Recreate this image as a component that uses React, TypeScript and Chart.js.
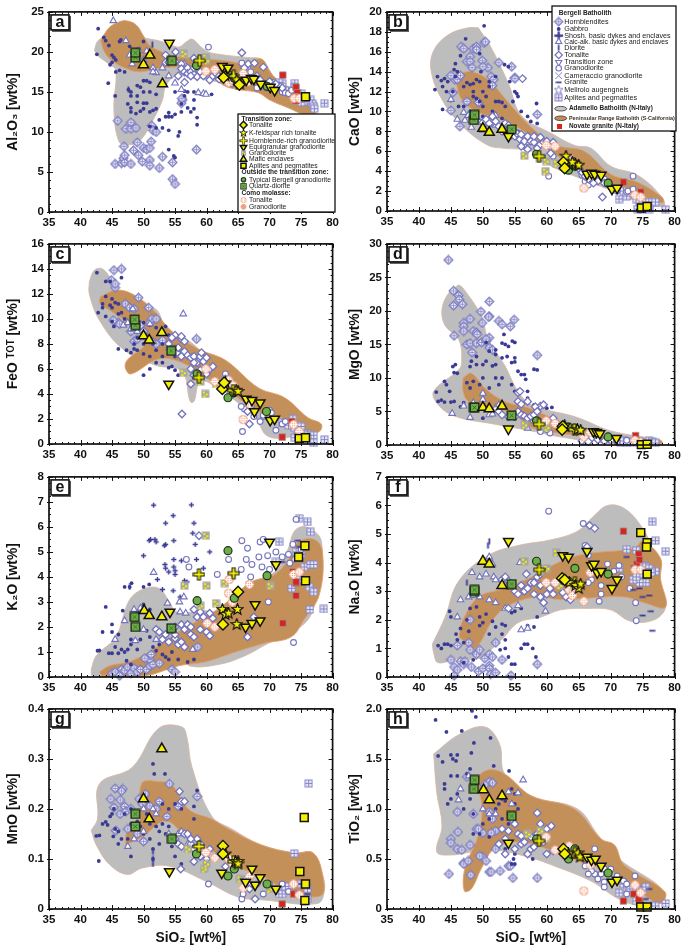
import React, { useEffect, useRef } from "react";
import { Chart, registerables } from "chart.js";
Chart.register(...registerables);

type P = number[];
// ---------- tick data
const xRange = [35, 80];
const xStep = 5;
const xLabelTitle = "SiO₂ [wt%]";
const titles = ["Al₂O₃ [wt%]", "CaO [wt%]", "FeO ᵀᴼᵀ [wt%]", "MgO [wt%]", "K₂O [wt%]", "Na₂O [wt%]", "MnO [wt%]", "TiO₂ [wt%]"];
const yMax = [25, 20, 16, 30, 8, 7, 0.4, 2];
const yStep = [5, 2, 2, 5, 1, 1, 0.1, 0.5];
const yMinor = [1, 0.5, 0.5, 1, 0.25, 0.25, 0.02, 0.1];
const letters = ["a", "b", "c", "d", "e", "f", "g", "h"];

// ---------- fields
const aAdamello: P[] = [[42.2,20.2],[42.8,21.4],[45,22.3],[48,22],[51,21.6],[52.4,21.4],[54,21],[55.6,20.6],[56.7,21.2],[57.7,21.6],[59,20.7],[60.3,20],[62,19.7],[64,19.5],[66.5,19.3],[68.7,19.1],[69.8,18],[70.8,16.7],[73,15.6],[75.5,14.6],[77.6,13.6],[76,13.2],[74,13.6],[71,14.6],[68,15.5],[64,15.8],[60,16.6],[57,17],[55,17],[53.5,15.7],[53,14],[51.5,11.5],[49.3,8.8],[47.5,8.4],[46.1,8.8],[45.3,12.8],[45.6,17.7],[44.5,18.5],[42.8,19.5]];
const aPeninsular: P[] = [[43.2,21.4],[44.5,23],[46,23.7],[47.2,23.9],[48.8,23.4],[50,22],[51,20.8],[53,20],[55.5,19.4],[58,19.2],[59.8,19.1],[63,18.9],[66,18.6],[68.7,19.1],[70,17.6],[71,16.7],[73,15.6],[75,14.3],[77.6,12],[76,12],[73,13],[70,14],[68.2,14.9],[65,15.3],[63,15.7],[61.5,16.5],[59.8,17.3],[57,18],[55,18.1],[52,17.9],[49.3,17.5],[47,18],[45,18.9],[43.8,20]];
const bAdamello: P[] = [[49.3,18.4],[47.7,18.4],[44.6,17.7],[42.3,16.1],[41.9,14.1],[43.6,11.2],[46.7,8.6],[50.8,6.6],[53.4,6.3],[57.6,6],[60.7,4.5],[64.8,3.4],[70,2.1],[75.2,0.9],[78.3,0.45],[78,1.4],[74.2,3.6],[70,4.5],[66.9,6.3],[64.3,6.6],[60.7,7.8],[56,9.6],[54,12.8],[51.3,16.4]];
const bPeninsular: P[] = [[46.2,13.8],[48.2,14],[50.8,13.2],[54,10.9],[57.6,8.4],[61.7,6.6],[65.9,6],[70,3.7],[74.2,2.9],[78,1.4],[78.2,0.8],[75.2,1.4],[70,2.6],[65.9,4],[61.2,5.7],[58.1,7.3],[53.4,9.1],[49.3,9.9],[46.7,11.2],[45.9,12.8]];
const cAdamello: P[] = [[41.4,13],[42.2,13.9],[43.5,14],[45.1,13],[47.2,11.5],[51.9,10.8],[53.5,9.4],[58.7,7.6],[60.8,5.2],[64,4.6],[67,4],[70.3,3.4],[74.5,1.9],[77.6,1.3],[76.9,0.6],[74.5,0.6],[69.8,0.6],[67.7,2.1],[64,3.7],[61.9,4.5],[59,5],[58,3.4],[57.4,3.4],[56.1,5.8],[51.9,6.3],[46.7,7.6],[43,9.9],[41.4,12]];
const cPeninsular: P[] = [[43.2,11.8],[45.6,12.3],[48.2,12],[51.4,10.8],[54.5,9],[58.7,7.6],[63,6.7],[68.2,4.5],[72.4,3.7],[76.1,2.1],[78.2,1.6],[77.9,1],[75.5,0.8],[72.9,1.9],[68.2,2.6],[63.5,4.2],[59.3,5.5],[56.1,6.5],[52.4,6.8],[48,5.6],[47.1,6.1],[47.4,6.7],[50.3,8.1],[48.2,9.4],[44.6,10.7],[43,11.3]];
const dAdamello: P[] = [[46.2,23.9],[46.9,23.4],[49.8,19.2],[50.8,15.8],[53.4,11.9],[55.5,8],[57.6,6],[64.8,4.1],[70,2.1],[77.8,0.7],[78,0.2],[70,0.2],[62.2,1.2],[57.6,2.1],[51.9,3.1],[45.6,4.3],[43,6],[42.3,8],[46.2,11.2],[46.7,12.4],[46.2,15.8],[44.1,17.8],[43.6,20.2],[44.6,22.6]];
const dPeninsular: P[] = [[46.9,10],[48.2,10.7],[50.3,8.5],[53.4,6.5],[57,5.6],[60.7,4.1],[64.8,2.6],[70,1.2],[77.8,0.7],[78,0.2],[72.6,0.35],[68,1.2],[62.2,1.7],[57.6,2.6],[54.5,4.8],[50.3,5.6],[47.7,6.5],[46.9,8]];
const eAdamello: P[] = [[41.7,0.3],[42.5,0.85],[45.6,1.6],[47.7,3.05],[49.8,3.5],[52.4,3.55],[54,3.05],[55.3,2.6],[60,2.65],[61.4,2.5],[62.9,2.8],[66.6,3.7],[70.8,4.2],[72.9,5.1],[74,5.85],[75.8,6],[78.2,5.45],[77.6,3.95],[76.6,2.5],[73.4,1.75],[69.8,1.35],[66.1,0.85],[61.9,0.5],[57.2,0.45],[56.4,0.85],[51.9,0.3],[48.2,0.05],[41.9,0.05]];
const ePeninsular: P[] = [[43,0.2],[44.6,0.45],[48.2,0.65],[52.4,1.25],[56.1,1.9],[60.8,2.55],[63.5,3.05],[67.1,3.8],[70.8,4.1],[73.4,4.85],[74.5,5.4],[77.1,5.5],[78.4,5],[77.9,3.3],[75.5,2.3],[73.4,1.6],[69.2,1.35],[64,0.95],[59.8,0.6],[55.6,0.45],[50.3,0.05],[43.5,0.05]];
const fAdamello: P[] = [[42.1,1.15],[44.1,2.1],[46.2,3.35],[50.8,4.25],[55.5,4.6],[60.7,4.8],[64.8,5.1],[67.2,5.6],[69.5,6],[72.1,5.9],[74.7,5.3],[76.3,4.6],[77.8,3.25],[78.6,2.45],[76.8,2],[73.1,1.95],[70,2.35],[66.4,2.4],[62.2,2.35],[59.1,2.1],[55.5,1.9],[52.9,1.3],[49.3,0.65],[46.2,0.65],[43,0.5],[42.3,0.85]];
const fPeninsular: P[] = [[46.3,1.4],[46.7,1.9],[49.3,2.8],[53.4,3.1],[58.6,3.6],[61.7,4],[65.9,4.3],[73.7,4.5],[75,4.75],[77.8,4.15],[77.8,3.45],[78.6,2.45],[75.2,2.6],[72.1,2.8],[65.9,2.75],[62.2,2.7],[58.6,2.8],[54.5,2.55],[51.9,2.1],[49.3,1.1],[48.5,1]];
const gAdamello: P[] = [[41.7,0.157],[42.7,0.18],[43,0.25],[48.2,0.283],[52.4,0.361],[56.1,0.364],[56.9,0.342],[57.7,0.283],[60.8,0.186],[64,0.16],[68.7,0.128],[74,0.112],[76.9,0.112],[78.4,0.069],[78.7,0.037],[77.6,0.011],[69.2,0.018],[65,0.024],[59.8,0.056],[54,0.086],[49.8,0.082],[47.4,0.069],[44.6,0.089],[42.5,0.128]];
const gPeninsular: P[] = [[47.1,0.128],[47.4,0.154],[49.3,0.173],[49.7,0.251],[52.4,0.255],[54.5,0.248],[57.2,0.199],[60.8,0.18],[63.5,0.16],[68.7,0.128],[74,0.112],[76.9,0.112],[78.4,0.069],[78.2,0.027],[73.4,0.034],[68.2,0.069],[63.5,0.089],[61.9,0.108],[56.6,0.147],[53.5,0.176],[49.8,0.144]];
const hAdamello: P[] = [[42.3,1.55],[46.2,1.74],[50.3,1.82],[52.6,1.65],[53.4,1.35],[57.6,1.13],[64.8,1],[68,0.74],[71.1,0.51],[78.3,0.17],[75.2,0.04],[71.6,0.09],[66.9,0.28],[61.2,0.43],[57.6,0.51],[51.9,0.59],[48.2,0.57],[45.1,0.54],[42.8,0.57],[43.6,0.83],[42.8,1.16]];
const hPeninsular: P[] = [[48.5,1.29],[50.8,1.39],[53.4,1.35],[57.6,1.13],[64.3,1],[68.5,0.7],[70.6,0.64],[72.1,0.44],[78.5,0.17],[77.8,0.055],[74.2,0.185],[70,0.38],[64.8,0.48],[59.6,0.61],[55.5,0.67],[51.9,0.61],[49.8,0.41],[48.2,0.2],[47.1,0.18],[47.2,0.41],[49.3,0.74],[49.8,1.06]];

// ---------- gabbro
const aGabbro: P[] = [[42.8,22.9],[42.6,19.7],[43.7,21.8],[44,21.4],[44.5,20.8],[45,19.6],[45.3,19.3],[44.7,18.4],[45,18.7],[45.6,19],[46.2,21.3],[46.4,21.5],[47.8,20.7],[49,20.3],[50,21.3],[51,19.8],[44.4,16.1],[45.5,14.5],[45.6,17.5],[46.2,17.7],[47,17.5],[47.6,15.3],[48,15],[48,14.5],[49,15.8],[49.5,15.6],[50,16.4],[50.5,16.4],[51,16.2],[49,14.5],[50,15],[51,15],[52,14.7],[47.5,13.5],[48,13],[49,13.7],[50,13.6],[50.5,13.6],[48,12.5],[48.8,12.3],[49.5,12.6],[50,12.9],[51,12.5],[51.5,12.7],[52,12.9],[52.5,11.5],[53.5,11.9],[54,11.9],[54.5,11.9],[55,12.2],[54,12.4],[53,10.5],[51,10.7],[52,10.5],[54,10.2],[55.5,9.5],[55.7,10],[54.8,7],[54,7.8],[55,6.8],[56.5,14.5],[57,13],[56,13.5],[57.5,12.5],[58,12.9],[57,15],[56.5,15.1],[58,15],[58.5,10.9],[58.5,11.8],[58,14],[60.8,14.7],[56,12.5],[55,15]];
const bGabbro: P[] = [[42.5,12.2],[42.9,13.5],[43.7,12.5],[43.5,13.1],[44,13.3],[44.3,12],[44.5,13],[43.7,10.2],[45,11.1],[45.3,12],[45.5,14.2],[45.7,13.5],[45.7,14.8],[46,14],[46.5,15.6],[47.3,17.3],[47,12.5],[47.5,12.9],[48,12.7],[48.5,12.8],[48.5,12],[49,13.2],[49.5,13],[48.5,11.5],[49,11.3],[49.5,11],[50,12],[50.5,11.5],[51,12.5],[52,13.5],[52,11],[52.5,11],[53,10.9],[51.5,10],[50,10.5],[50.2,18.6],[49.5,15.8],[49.7,14],[53.4,14.7],[54,14.5],[54.2,13],[55,12],[55.3,11.8],[55.5,11.5],[58.4,10.8],[57,9.5],[56,10],[57.5,9],[58.5,8.8],[55.5,8],[54,8.5],[53,9.3],[50,9.5],[49,9.8],[48,10],[47,10.5],[53.5,10.5],[51,13],[46.2,10.5],[54.7,11]];
const cGabbro: P[] = [[42.6,13.7],[43.5,10.9],[42.8,10.5],[43.5,11.2],[44,13],[44.7,13],[46.5,13.3],[44,11.8],[45,11.6],[45.5,11.3],[46,11.2],[44.7,11.1],[45,10.9],[46,10.4],[46.5,10.5],[44,10.2],[45,9.8],[45.3,9.4],[46,7.6],[47,9.5],[47,10],[48,9.3],[48.5,8],[48,7.3],[49,7.5],[50,7.2],[51,7],[51,6],[52,6.5],[53,6.5],[54,6.1],[54.5,6.2],[55,5.9],[50,5.5],[53,7],[54,8.7],[55,7],[52,7.5],[51.5,8],[50,9.7],[49,8.5],[50,8],[52,9.3],[53.5,9.4],[53,8],[55.5,5.5],[54.5,7.3],[48.5,7.6],[51,9.5],[47.3,7.5]];
const dGabbro: P[] = [[42.7,7.9],[43,6.5],[43.5,6.7],[44,9.5],[44.3,9],[44,6.4],[44.8,8],[45,6.4],[45.5,6.5],[45.7,12],[45.3,11.7],[45.5,10.8],[46,10.7],[46.5,5.7],[47,6.3],[47.5,9.3],[48,8.5],[48.5,9.5],[48,11.7],[48.2,12.5],[49,12],[49,13.2],[50,12],[50.5,12.5],[51.5,11.8],[52,12],[52,13.5],[53,13],[53,15.2],[53.3,16.5],[53.5,15],[54,14.7],[54.6,15.5],[55,15.3],[53.8,13.2],[54.5,12.3],[55,12.4],[55,13],[55.5,11],[56,10.5],[56.5,10.5],[56.7,9.8],[58,11.3],[58.5,11.2],[50,10],[49.5,9],[51,8.5],[50,7.5],[52,10],[52.5,9],[53,10],[54.5,9],[55,8],[56,8.1],[57,7],[57,8],[58,6],[60,5.5],[60.8,5.6],[51,14],[50.5,15.3],[52,14.2],[50,4]];
const eGabbro: P[] = [[42.7,1.05],[43,1.06],[43.5,1.8],[44,2.8],[45,2.1],[45,1.8],[44.5,0.95],[45,0.95],[46,0.95],[47,1],[46.7,2.65],[47,3.6],[48.1,3.75],[47.8,3.6],[50,3.6],[50.9,3.7],[50,2.9],[51,2.7],[49,2.6],[48,1.3],[47.5,1.1],[47.3,0.65],[48,0.5],[49,1.1],[49.5,1.5],[50.5,1.85],[51,1.6],[51.5,1.2],[52,1.05],[52.5,1.3],[53,0.9],[53.5,0.8],[54,0.7],[54.5,1],[55.5,0.7],[57,0.6],[58,0.7],[48,1.5],[46,1.7],[45.5,1.2],[46.5,1.1]];
const fGabbro: P[] = [[43,1.1],[43.5,1],[44,1.15],[44.5,1.15],[44.8,2.3],[45,2.1],[45.8,1.5],[45,1.1],[46,1.3],[46.5,1.7],[47,1.2],[47.5,2],[47.8,1.6],[48,2.4],[49,2.45],[49.5,2.1],[50,1.9],[50.5,2.2],[49.5,1.8],[51,1.5],[51.5,1.95],[52,1.75],[53,1.5],[53.5,1.3],[53,1.85],[54.5,2.25],[55,2.3],[56,2.4],[57,1.8],[58,1.75],[58.5,2.1],[52.7,0.95],[53.5,1],[54,0.7],[54.5,0.45],[55,0.45],[56.5,1.15],[57,1.15],[57.8,1],[58.3,0.7],[56,1],[53.5,1.8],[47,0.5],[48.5,0.6]];
const gGabbro: P[] = [[42.5,0.146],[43,0.147],[43.5,0.17],[44,0.174],[44.3,0.168],[44.7,0.185],[45,0.19],[45.3,0.2],[45.5,0.16],[46,0.155],[46,0.13],[46.5,0.14],[45.2,0.145],[48,0.105],[47.5,0.14],[48,0.17],[49,0.175],[49.5,0.165],[50,0.2],[50.5,0.19],[50,0.15],[51,0.17],[51,0.14],[52,0.165],[52,0.19],[52.5,0.13],[53,0.21],[53,0.17],[53.5,0.15],[54,0.165],[54,0.2],[54.5,0.125],[55,0.21],[56,0.2],[51.5,0.29],[51.7,0.27],[53.4,0.27],[58.5,0.237],[58,0.205],[58,0.18],[51.5,0.12],[51.5,0.1],[52.5,0.155],[55,0.105],[56,0.09],[47,0.19],[48,0.2],[42.9,0.096]];
const hGabbro: P[] = [[42.6,1.89],[43,1.53],[44.3,1.77],[43.7,1.47],[45,1.54],[46,1.54],[45.8,1.48],[45.3,1.5],[46.7,1.78],[48.3,1.98],[48.9,1.92],[48.6,1.66],[48.2,1.56],[51.2,1.71],[51.7,1.43],[48,1.4],[47.5,1.35],[46,1.33],[45,1.33],[44,1.25],[44,1.2],[44.5,1.05],[45,1.1],[46,1.15],[47,1],[48,1.1],[48.5,0.95],[49,1.25],[50,1],[51,0.9],[53,1.1],[54,0.95],[54.1,1.38],[54.5,1.2],[55,1.15],[55,1.05],[55.5,1],[54,0.85],[53.5,1.08],[52.5,1.05],[53,0.9],[52,1],[50,0.85],[49.5,0.75],[48.5,0.75],[54.8,0.5],[54.5,0.45],[55,0.55],[57.8,0.5],[51,0.72],[53.5,0.6],[55,0.45]];
const eShosh: P[] = [[51.6,6.87],[57.6,6.88],[54.7,6.45],[53.5,6.15],[51.1,5.5],[50.9,5.45],[51.8,5.5],[52,5.4],[53.3,5.25],[53.5,5.3],[54.8,5.45],[58,6.15],[57.8,5.75],[58.2,5.3],[58.4,4.7],[54.8,4.7],[56,4.65],[54.8,4.4],[53.4,4.5],[55,4.25],[54,4.2],[52.2,3.9],[53.5,4.35],[55,4.1],[56.5,3.85],[56.9,3.8],[59.5,4.35],[60.5,5],[50,4.85],[54.7,3.45],[53,3.5],[55.8,3.2]];

// ---------- hornblendites
const aHorn: P[] = [[45.9,11.4],[47.2,10.4],[48,10.4],[48,11.2],[48.8,10.5],[46.9,8.2],[49,8.7],[48.4,7.7],[49.2,7.1],[49.8,6.3],[50,8],[50.5,7.8],[51,8],[51.2,8.8],[51.3,10.8],[51.5,10.2],[52,10],[45.5,6],[46.5,6.1],[46.8,6.7],[47,6.2],[48,6],[47,7.1],[51,6.5],[51,5.8],[52.5,5.5],[53,6.9],[54.6,6.2],[54.6,4.1],[55,3.5],[58.4,7.8],[56.2,14],[56,13.6],[56.1,14.2]];
const bHorn: P[] = [[45,10.1],[45.3,11.9],[45.6,13.2],[45,13.6],[46,13.2],[46.5,13.6],[46.6,16.5],[47,16.3],[47.5,15],[48,15.5],[48,15],[48.3,14.4],[48.5,16.3],[49,16.5],[49,16.2],[49.9,15.1],[50.2,16.9],[50.4,17],[50.8,14.4],[50,14.5],[51.3,13.5],[51.7,13.2],[51.5,12.6],[52.5,14.9],[54.5,14.5],[55,13.4],[55,13.3],[58.5,9.7],[46.4,8.5],[47.5,11],[49.3,10.9]];
const cHorn: P[] = [[45.3,13.9],[46.5,14],[44.9,13.1],[45.5,12.5],[45.5,12.8],[47.1,11.2],[49.2,11.7],[47.8,10.9],[48.5,10.8],[50.8,10.9],[46,9.7],[45.2,9.9],[46.2,9.6],[48,9],[48.5,8.2],[49.5,9.5],[50,9],[51,9.7],[51.3,10],[52,10],[58.4,8.4],[49,8.4],[51,8.3],[52,8],[53,8.3]];
const dHorn: P[] = [[44.6,27.6],[45.4,23],[46.2,22.3],[46.3,21.7],[46.8,21],[45.4,20.8],[49.7,19.9],[47,18.2],[47,17.7],[47,17],[48,18.8],[48.5,17],[49,16.8],[49.1,16.5],[49.9,18.2],[51,19.2],[50.9,19.1],[51,21.4],[52.5,18.5],[53,18],[54.3,17.7],[54.9,18.7],[45.5,16.3],[47.5,15],[48,15.2],[49,15.2],[49.8,15.3],[50.5,15.5],[51,16],[50.5,15.8],[51,14.5],[51.5,14.2],[48.3,13.8],[58.5,13.4]];
const eHorn: P[] = [[45,0.15],[45.5,0.2],[46.5,0.3],[46.2,0.05],[47,0.25],[47.5,0.4],[48,0.15],[48.5,0.35],[49,0.2],[49.5,0.3],[50.5,0.3],[51,0.45],[51,0.7],[51.5,0.5],[52.5,0.55],[54.5,0.3],[55,0.2],[50.2,0.75],[51.2,0.9],[58.6,1.2]];
const fHorn: P[] = [[45,0.6],[45.5,0.35],[45.5,0.05],[46,0.25],[46.5,0.55],[47,0.45],[47.2,0.55],[48.2,0.35],[49.3,0.2],[50,0.3],[50.3,0.65],[51,0.4],[51,0.3],[51.2,0.1],[52,0.15],[53,0.6],[54.4,0.05],[58.5,0.45],[47.8,1.2],[46,1.1],[48,0.95],[49,0.8],[49.5,0.95],[51,0.8],[51.5,0.7],[52,1.2],[48,2]];
const gHorn: P[] = [[45.5,0.241],[46.7,0.24],[46.5,0.236],[44.8,0.22],[46.3,0.218],[45.3,0.203],[47,0.205],[46.3,0.19],[47.2,0.195],[48,0.2],[49.3,0.22],[50.3,0.23],[51,0.206],[54.1,0.25],[58.5,0.225],[45.6,0.157],[47.5,0.16],[49,0.15],[50,0.135],[48.7,0.165],[49.8,0.21],[52,0.2],[52.5,0.215],[53.7,0.185],[55.5,0.205]];
const hHorn: P[] = [[46,0.97],[45,0.7],[45,0.66],[46.1,0.77],[46,0.6],[46.7,0.59],[47,0.46],[47,0.45],[47.7,0.48],[48.1,0.34],[44.7,0.35],[48,0.64],[49,0.8],[50,0.76],[50,0.52],[49.5,0.53],[50.5,0.48],[51,0.37],[51.3,0.37],[52.7,0.38],[54,0.43],[54.3,0.43],[54.7,0.31],[58.5,0.31],[47.5,1.32],[48.5,0.95],[49.3,0.8],[51,1.27],[51.5,1.26],[50.3,1.24],[51,0.97],[51.5,0.9],[52,0.78],[51.3,0.76],[52,0.6]];

// ---------- tonalite
const aTon: P[] = [[53.5,19.6],[53.5,18.7],[54,18.7],[55.1,20],[55,18.8],[56,18.5],[56,17.9],[56.5,17.5],[57,18],[57,17.3],[57.5,17.5],[58,17.2],[58,18],[58,19.2],[58.5,18.9],[59,17.5],[58.5,16.9],[59.5,17],[60,17.6],[60.5,16.5],[61,17],[55.5,17],[56.5,16.2],[57.5,17],[61.5,17.3],[62,17],[62,16.6],[65.6,19.9],[66.6,18.5],[67.6,18.6],[68,17],[68.5,16.5],[69,18.1],[70,16.3],[71,16],[72,15.5],[66,18]];
const bTon: P[] = [[56.2,13.3],[50,8.9],[50.5,9.2],[51,8.8],[51.5,9.5],[52,9],[52.5,8.5],[53,8],[53.5,8.8],[54,8.6],[54.5,7.6],[55,7.5],[55.3,7.8],[55.8,7.2],[56,7.7],[56.5,7],[57,7.5],[57.5,7],[58,6.9],[58,7.5],[58.5,6.3],[59,7.4],[59,6.7],[59.5,6.9],[60,7],[60.5,6.5],[60.6,5.8],[56,6.5],[57,6.2],[65.5,3.9],[66,3.5],[67,3.3],[68,3],[69,2.8],[68.7,1.4],[67.3,2.8],[66.5,3.2],[65,4.3],[61,6.9]];
const cTon: P[] = [[55,8.7],[56,8.4],[56,8.6],[56.5,8.2],[55.3,7.3],[55.5,7.7],[56,7],[56.5,7.4],[57,7.1],[57.5,6.9],[58,7],[58.5,6.5],[58,6.5],[59,6.8],[59,7],[59.2,7.3],[59.5,6.6],[60,6.9],[57.5,6],[57.5,4.8],[56.1,2.4],[58,5.5],[59,5.9],[60,5.6],[60.5,6],[54,8],[54.5,8.5],[61,6.2],[66.8,1.6],[63,5.2],[67,3],[66.5,2.6]];
const dTon: P[] = [[52.5,5],[53,4.5],[54,4.2],[55,4.2],[55.5,5],[56,4.5],[56.5,4.3],[57,4],[57.5,4.3],[58,4.5],[59,5.8],[59.5,6],[58.2,5.7],[58.5,5],[55.5,7.8],[55.8,8],[55.5,6.5],[56,6.1],[57,6.5],[60,3.5],[61,4],[59.5,3.4],[65.5,0.6],[67,1],[68,0.8],[66.5,0.5],[69,0.6],[58,3.5],[61.5,3.2]];
const eTon: P[] = [[58.8,5.65],[52,1.9],[52.5,1.8],[53,1.5],[53.5,1.7],[54,1.4],[55,1.55],[55.5,1.3],[56,1.4],[56.5,1.2],[55,2],[56,2.1],[56.5,1.9],[57,2.1],[57.5,2],[57.5,1.7],[58,1.6],[58.5,2.4],[58,2.7],[59,2.6],[59,1.9],[59.5,2.4],[60,2.2],[60,1.8],[60.5,1.65],[61,2.35],[55,1.7],[60.5,2.55],[67.5,2.4],[66.5,1.6]];
const fTon: P[] = [[53,3.4],[53.5,3.5],[54,3.35],[55,3],[55.5,2.9],[56,3.2],[56.5,3],[57,3.1],[57.5,3.3],[58,2.9],[58,3.3],[58.5,3.5],[59,3.2],[59,2.8],[59.5,2.6],[60,2.9],[60.5,3.1],[61,3.3],[61,2.9],[56.8,3.6],[62.5,2.95],[63,2.8],[63.7,2.7],[66.3,4.55],[66.7,5.3],[67.5,5.2],[59,3.6],[54,2.4]];
const gTon: P[] = [[55.7,0.235],[56,0.215],[56.5,0.215],[55,0.14],[55.5,0.13],[56,0.125],[56.5,0.15],[57,0.15],[57.5,0.13],[58,0.12],[58.5,0.14],[59,0.13],[59,0.105],[58,0.095],[60,0.1],[60.5,0.12],[55.9,0.08],[62,0.11],[67.7,0.02],[66.8,0.04],[57.5,0.14],[63,0.085]];
const hTon: P[] = [[53,0.8],[53.5,0.7],[54,0.78],[54.5,0.9],[55,0.85],[55.5,0.75],[56,0.73],[56,0.65],[56.5,0.67],[57,0.55],[57.5,0.6],[58,0.62],[58.5,0.96],[59,0.85],[59,0.75],[60,0.8],[60.7,0.83],[60,0.55],[58.5,0.75],[55,0.6],[52.5,0.65],[53.5,0.55],[57.5,0.72],[59.5,0.67],[61,0.58]];

// ---------- granodiorite
const aGrd: P[] = [[60.3,20.6],[65.6,18.6],[66.5,18],[67,17.5],[67.2,16.5],[68,15.5],[69,16],[69.5,15.5],[70.5,16.2],[71.5,15.8],[72,15],[72.5,14.9],[73,14.8],[73.5,15.2],[64,16],[65,17]];
const bGrd: P[] = [[60.3,3.5],[65.5,3.6],[66,3],[66.5,2.6],[67.5,3.2],[69,3.2],[70,2.5],[70.5,2.2],[71,2],[72.5,1.9],[72.7,2],[73.5,3.5],[73.5,2.2],[61,5.5],[63,4.3]];
const cGrd: P[] = [[65.7,1],[68.5,1.8],[67.5,2.2],[66,2.8],[69,2.2],[70,2.7],[71,1.1],[72,1.6],[72.5,1.8],[64,3.9],[65.5,3],[63,5.6],[69,2.3],[70.3,2.5]];
const dGrd: P[] = [[59,2],[60.5,1.8],[60,2.3],[65.7,0.5],[67.5,0.4],[69,0.7],[70,0.7],[71,0.5],[72.5,0.7]];
const eGrd: P[] = [[56.8,4.7],[57.2,4.4],[61.7,4.1],[63.5,4.7],[65.6,5.45],[66.5,5.15],[68.5,5.4],[69,5.5],[69.7,4.85],[68.3,4.8],[66.3,4.7],[65.5,4.3],[67.2,4.5],[67,4],[68.8,4.4],[70,4.3],[72,4.8],[73,4.9],[73.8,1.38],[73.7,5.3],[73.2,4.55],[74,4.7],[75,5.1],[69.8,3],[74.2,6.3],[71,5]];
const fGrd: P[] = [[60.3,5.8],[65.7,5.37],[66,4.6],[66.5,4.25],[67,3.4],[68.5,3.2],[69.5,3.95],[70.5,3.7],[71.3,3.9],[71.7,3.5],[73,3.1],[74,1.97],[73.9,2.6],[66.5,3.3],[68.5,2.9],[68.2,2.65]];
const gGrd: P[] = [[60.3,0.05],[65.6,0.02],[65.8,0.03],[68,0.05],[69,0.03],[70,0.05],[71,0.04],[72,0.05],[67,0.05],[66.3,0.06],[73,0.035]];
const hGrd: P[] = [[66,0.43],[67.5,0.35],[68,0.3],[68.5,0.35],[67,0.38],[69,0.4],[70,0.4],[71,0.33],[72,0.28],[72.5,0.25],[73.8,0.33],[69,0.27],[69,0.22],[67.5,0.6],[66.5,0.35],[72.5,0.15]];

// ---------- aplites and pegmatites (Bergell)
const aApl: P[] = [[74,16.1],[74,15.5],[75,14.8],[75.5,14],[76,13.8],[76.5,14],[76.8,13.5],[77,13.2],[77.1,12.9],[75,13.7],[72,16.1],[73,15.2],[71.5,16.2],[78.7,13.6]];
const bApl: P[] = [[71.3,1.2],[72,2],[73,1.6],[74,1.2],[74.5,0.8],[75,0.9],[75.5,0.9],[76,0.6],[76.5,0.9],[77,0.9],[75,0.15],[76,0.2],[78.6,0.15],[74.2,0.2],[72.5,1.5]];
const cApl: P[] = [[72,1.7],[73,1.5],[73.7,2],[74,1.3],[74.5,1.5],[75,1.4],[76,0.8],[76.5,0.7],[77,0.7],[74.5,0.7],[74,0.5],[75.5,0.7],[76,0.4],[78.7,0.35],[77,0.1]];
const dApl: P[] = [[71.5,0.4],[72.5,0.3],[73,0.5],[73.5,0.4],[74.5,0.5],[75,0.4],[76,0.6],[76.5,0.5],[77,0.3],[72,0.6]];
const eApl: P[] = [[74.7,6.35],[76,6.2],[76.5,5.8],[71.5,5.4],[74.2,5],[75,4.9],[75.5,4.4],[76.5,4.5],[76.3,3.6],[77,3.4],[77,4.5],[73.5,3.55],[74.8,3.9],[76.4,2.7],[78.6,2.72],[71,4.6]];
const fApl: P[] = [[72.5,4.47],[74,4.43],[75,3.9],[75.5,3.85],[76,3.8],[76.5,5.43],[77,4.77],[77,3.7],[76.3,3.65],[75.5,3.3],[74.5,3.3],[73.5,3.4],[74.5,3.6],[78.6,4.4],[71.3,3.8],[74,3.5]];
const gApl: P[] = [[76.2,0.251],[73.9,0.111],[71.5,0.03],[72,0.03],[73,0.04],[75,0.05],[76,0.04],[75.5,0.02],[76,0.02],[74.5,0.03],[72.5,0.045]];
const hApl: P[] = [[71.3,0.16],[73,0.2],[74,0.2],[75,0.18],[75.5,0.22],[76.7,0.03],[77,0.03],[78.6,0.055],[74,0.08],[75,0.05],[72,0.25]];

// ---------- calc-alkaline basic dykes
const aCalc: P[] = [[45.2,23.9],[47.2,21.4],[47.8,19.6],[49.3,20.2],[48.2,18.5],[50,19],[50.5,20.1],[51.5,18],[52,17.4],[51.5,17.5],[55,16.1],[56,15.3],[53,18],[54,17],[55,19],[56.5,18.5],[58.7,14.9],[59.5,14.8],[59.9,14.7]];
const bCalc: P[] = [[46,9.2],[47,9.9],[47.2,9.1],[48.2,8.4],[47.7,9.6],[49,8.9],[45,11.2],[49.5,8.9],[50,8.1],[51,8.7],[52,8.6],[56.5,6.6],[57,6.9],[52,9.6]];
const cCalc: P[] = [[56.3,10.4],[48.3,10.8],[46.8,9.5],[48,9.2],[49,9],[51,9.6],[50.5,8.5],[47.5,9.7],[51.5,8.2],[54,7.7],[55,7.6]];
const dCalc: P[] = [[45.2,4.7],[48,4.1],[47,5.8],[48.5,6.3],[50,6.8],[49.5,5.5],[51,4.5],[51.5,4.6],[52,5.5],[57,2.5],[52.5,6],[50,7.7]];
const eCalc: P[] = [[45.5,1.5],[47,2.25],[48.5,2.7],[49.5,2.75],[48.7,1.45],[51.6,4.18],[53.8,2.95],[55.7,3],[56.4,3.2],[55.8,2.6],[56.7,2.55],[52,1.5],[50,1.9],[57.8,1.1]];
const fCalc: P[] = [[48.3,3.65],[49.5,3.5],[50.5,3.6],[51,4.2],[51.5,3.95],[51.7,3.5],[52,3.4],[47.8,2.8],[48.5,2.85],[49.5,2.8],[46.5,2.7],[46,2.1],[51,2.7],[52,2.6],[53.5,2.4],[55.5,2.5],[55.8,4],[56,1.65],[59.8,2.3],[57,1.7]];
const gCalc: P[] = [[47.5,0.125],[48.5,0.14],[50,0.2],[51.5,0.2],[52,0.19],[54,0.15],[55.5,0.15],[56,0.155],[57,0.13],[50,0.155]];
const hCalc: P[] = [[56.3,1.29],[46.5,1.2],[46.2,1.09],[54,1.17],[55.5,1.16],[50,1],[51,0.95],[52,0.95],[47.8,1.33],[54.5,1.05]];

// ---------- granite dashes and diorite bars
const aGranite: P[] = [[75,14.6],[76,14.2]];
const eGranite: P[] = [[74.5,5.45],[74.8,5.2],[75.5,5.25],[72,4.6]];
const fGranite: P[] = [[72.5,4.2],[76.5,1.62],[76.3,2.3],[75,2.15],[74.5,3.1],[75,2.8],[76,2.85],[73.5,3.05]];
const gGranite: P[] = [[75,0.05],[76,0.03],[75.5,0.01]];
const hGranite: P[] = [[76,0.2],[75.5,0.1]];
const aDiorite: P[] = [[51.4,20.9],[47.6,15.3]];
const fDiorite: P[] = [[50.8,4.6],[51,4.75],[47.5,3.3]];
const gDiorite: P[] = [[51.5,0.1],[51.5,0.115],[51.5,0.09]];
const eDiorite: P[] = [[47.8,3.6]];

// ---------- Novate granite
const aNovate: P[] = [[72.1,17.1],[74.2,15.6],[74.4,14.9],[74.2,13.9],[74,14.4]];
const bNovate: P[] = [[72,2.9],[73.7,1.6],[74.7,1.9]];
const cNovate: P[] = [[72,0.55],[73.5,1.8],[74.6,0.8]];
const dNovate: P[] = [[73.9,1.4],[74,0.6]];
const eNovate: P[] = [[72.1,2.15],[73.7,4.2],[74.2,3.75],[74.2,3.25],[74.2,3.8]];
const fNovate: P[] = [[72,5.1],[74.4,4.3],[74.1,3.95],[74.5,4.1],[73.6,3.8]];
const gNovate: P[] = [[72,0.01],[73.8,0.03],[74.6,0.03]];
const hNovate: P[] = [[72,0.08],[73.6,0.15],[74.6,0.07],[74.4,0.1]];

// ---------- Como molasse
const aComo: P[] = [[59.9,17.6],[61.3,17.8],[63.5,16.2],[64.2,16.4],[65.8,17.3],[66.7,16.3],[73.9,14.2],[74.7,14.2]];
const bComo: P[] = [[59.9,6.6],[61.3,6.5],[63.5,5.3],[64.2,4.9],[66.8,3.6],[65.8,2.3],[73.8,1.6],[74.7,1.4]];
const cComo: P[] = [[59.9,6],[61.3,5],[63.5,5.1],[64.2,4.7],[66.8,3.2],[65.8,1.95],[73.8,1.55],[74.7,1]];
const dComo: P[] = [[59.9,3.6],[61.3,3.2],[63.5,2.8],[64.2,2.4],[65.8,1.2],[66.8,1.9],[73.8,0.7],[74.7,0.4]];
const eComo: P[] = [[60.1,2.15],[61.3,2],[63.5,3.35],[63.6,3.9],[64.1,3],[66.8,3.7],[73.8,4.1],[74.7,4.2]];
const fComo: P[] = [[59.9,3.3],[61.3,3.3],[63.5,3.05],[64.2,3],[64,2.85],[65.8,2.65],[66.8,3.65],[73.8,3.75],[74.7,3.75]];
const gComo: P[] = [[59.9,0.113],[61.3,0.102],[63.5,0.1],[64.2,0.09],[66.8,0.065],[65.8,0.042],[73.8,0.05],[74.7,0.028]];
const hComo: P[] = [[59.9,0.72],[61.3,0.59],[63.5,0.63],[64.2,0.57],[66.8,0.44],[65.8,0.18],[73.8,0.24],[74.7,0.16]];

// ---------- transition-zone granodiorite
const aTzGrd: P[] = [[56.4,19.8],[59.9,19.3],[60,18.9]];
const bTzGrd: P[] = [[56.5,5.55],[59.9,5],[59.8,4],[61.5,4.8],[58.9,5.3]];
const cTzGrd: P[] = [[59.8,4],[56.3,5.7],[59,5],[61.5,4.8]];
const dTzGrd: P[] = [[56.5,3],[59,2.8],[60,2.6]];
const eTzGrd: P[] = [[56.5,3.65],[59.9,5.65],[60,3.65],[59,2.85],[61.5,2.95],[62.9,3.75],[70.1,3.65]];
const fTzGrd: P[] = [[56.5,4.05],[59,3.7],[60,3.8],[61.5,4.35],[62,3.2]];
const gTzGrd: P[] = [[59.6,0.08],[60,0.09],[57,0.12],[65.3,0.06],[70,0.04]];
const hTzGrd: P[] = [[57,0.75],[59,0.78],[60,0.7]];

// ---------- typical Bergell granodiorite
const aTypical: P[] = [[58.4,18.3],[63.4,17.2],[64.4,16.7],[69.6,15.7]];
const bTypical: P[] = [[58.4,5.7],[63.4,4.1],[64.4,4.5],[69.6,2.8]];
const cTypical: P[] = [[58.5,5.6],[63.4,3.7],[64.3,4.1],[69.5,2.6]];
const dTypical: P[] = [[58.4,3.6],[63.4,2.7],[64.4,2.5],[69.6,1.2]];
const eTypical: P[] = [[58.5,3.05],[63.4,5.05],[64.4,3.15],[69.6,4.05]];
const fTypical: P[] = [[58.4,4.05],[63.4,3.35],[64.4,3.8],[69.6,3.6]];
const gTypical: P[] = [[58.4,0.11],[63.4,0.066],[64.4,0.08],[69.6,0.05]];
const hTypical: P[] = [[58.4,0.7],[63.4,0.5],[64.4,0.6],[69.6,0.36]];

// ---------- quartz-diorite
const aQtz: P[] = [[48.7,19.3],[48.7,19.9],[54.5,18.9]];
const bQtz: P[] = [[48.6,9.15],[48.7,9.65],[54.5,8.2]];
const cQtz: P[] = [[48.7,9.5],[48.6,9.95],[54.4,7.45]];
const dQtz: P[] = [[48.6,5.6],[48.7,5.6],[54.5,4.4]];
const eQtz: P[] = [[48.7,2],[48.6,2.4],[54.4,1.95]];
const fQtz: P[] = [[48.7,3],[48.7,3.05],[54.5,3.25]];
const gQtz: P[] = [[48.7,0.165],[48.7,0.19],[54.5,0.14]];
const hQtz: P[] = [[48.6,1.2],[48.7,1.29],[54.5,0.93]];

// ---------- tonalite, k-feldspar, hornblende-rich (transition zone)
const aTzTon: P[] = [[62.7,16.8],[65.2,15.9]];
const bTzTon: P[] = [[62.6,4.9],[62.8,4.3]];
const cTzTon: P[] = [[62.5,4.4],[62.8,4.9]];
const dTzTon: P[] = [[62.5,2.8],[62.4,2.3]];
const eTzTon: P[] = [[62.6,2.1],[65,3.4]];
const fTzTon: P[] = [[62.4,3.45],[62.8,3.4]];
const gTzTon: P[] = [[62.6,0.126],[62.6,0.11]];
const hTzTon: P[] = [[62.6,0.6],[62.8,0.55]];
const aKfs: P[] = [[63,17],[64.8,16.5],[65.3,16]];
const bKfs: P[] = [[63,5.5],[64.5,4.7],[65,4.6],[64,4.9]];
const cKfs: P[] = [[63,4.9],[64.7,4.3],[65,4.2]];
const dKfs: P[] = [[62.8,2.9],[64.8,2.3],[65.3,2.2]];
const eKfs: P[] = [[62.5,2.7],[63,2.5],[63.5,2.55],[64.9,2.7],[64.8,2.1]];
const fKfs: P[] = [[63.5,3.3],[64.5,3.2],[65,3.1],[65.3,3.25]];
const gKfs: P[] = [[63,0.11],[64.6,0.095],[65,0.095],[65,0.09]];
const hKfs: P[] = [[63.4,0.55],[64.9,0.56],[65.2,0.52]];
const aHbl: P[] = [[58.9,18.9],[64.3,17]];
const bHbl: P[] = [[58.8,5.5],[64.2,4.8]];
const cHbl: P[] = [[58.8,5.3],[64.2,4.3]];
const dHbl: P[] = [[58.8,3.1],[64.3,2.3]];
const eHbl: P[] = [[58.8,4.1],[64.3,4.15]];
const fHbl: P[] = [[58.8,3.75],[64.4,3.3]];
const gHbl: P[] = [[58.8,0.125],[64.3,0.095]];
const hHbl: P[] = [[58.8,0.68],[64.4,0.56]];

// ---------- equigranular granodiorite
const aEqui: P[] = [[54.1,21.1],[62.5,18.2],[63.4,18],[66.3,16.5],[67.1,16.7],[67.5,16.6],[68.6,16],[70.1,15.6],[70.8,15.2]];
const bEqui: P[] = [[54,7.5],[66.3,3.7],[67,3.8],[67.5,3.7],[68.5,3.6],[70.2,2.2],[71,2.3]];
const cEqui: P[] = [[54,4.8],[66.3,3.6],[67.2,3.5],[67.6,2.6],[68.5,3.3],[70.1,1.9],[70.8,2]];
const dEqui: P[] = [[54,2.4],[67.3,2],[67.8,1.9],[68.3,1.7],[70.9,1]];
const eEqui: P[] = [[54.2,2.6],[66.2,2],[67.2,2.15],[67.7,2.9],[68.5,2.25],[70,5.4],[71,4.5]];
const fEqui: P[] = [[54,4.75],[62.5,4.25],[63.4,4.2],[66.3,4.4],[67,3.9],[67.4,3.95],[67.9,3.65],[68.5,3.7],[70.2,3.1],[71,3.4]];
const gEqui: P[] = [[54.1,0.075],[62.4,0.072],[66.2,0.054],[67.2,0.08],[67.7,0.048],[68.5,0.063],[71,0.04]];
const hEqui: P[] = [[54,0.66],[66.3,0.52],[67,0.49],[67.6,0.5],[68.5,0.43],[70.2,0.27],[71,0.29]];

// ---------- mafic enclaves
const aMafic: P[] = [[50,18.4],[51,19.6],[53,16]];
const bMafic: P[] = [[50,8.3],[51,7.9],[53,8.2]];
const cMafic: P[] = [[50,8.65],[50.9,8.3],[52.9,8.9]];
const dMafic: P[] = [[50,5.6],[51,5.4],[53,5.8]];
const eMafic: P[] = [[50.1,2.65],[50.9,2.45],[52.9,2.4]];
const fMafic: P[] = [[50,4.05],[51,3.95],[53,3.2]];
const gMafic: P[] = [[50,0.22],[50.9,0.18],[52.9,0.32]];
const hMafic: P[] = [[50.1,1.19],[51,1.09],[53,1.13]];

// ---------- aplites and pegmatites (transition zone)
const aTzApl: P[] = [[75.7,14.4]];
const bTzApl: P[] = [[74.8,0.3],[75.7,0.45]];
const cTzApl: P[] = [[74.7,0.45],[75.7,0.5]];
const dTzApl: P[] = [[74.8,0.05],[75.7,0.1]];
const eTzApl: P[] = [[74.6,4.8],[75.6,5.25],[75.7,3.85]];
const fTzApl: P[] = [[74.7,5.05],[75.7,4.7],[75.6,4.55],[75.7,3.6]];
const gTzApl: P[] = [[75.5,0.183],[74.8,0.075],[75.7,0.05],[75.6,0.017]];
const hTzApl: P[] = [[74.7,0.02],[75.7,0.02]];

// ---------- legend texts
const legendATransition = ["Tonalite", "K-feldspar rich tonalite", "Hornblende-rich granodiorite", "Equigranular granodiorite", "Granodiorite", "Mafic enclaves", "Aplites and pegmatites"];
const legendAOutside = ["Typical Bergell granodiorite", "Quartz-diorite"];
const legendAComo = ["Tonalite", "Granodiorite"];
const legendB = ["Hornblendites", "Gabbro", "Shosh. basic dykes and enclaves", "Calc-alk. basic dykes and enclaves", "Diorite", "Tonalite", "Transition zone", "Granodiorite", "Cameraccio granodiorite", "Granite", "Melirolo augengneis", "Aplites and pegmatites"];
const legendBFields = ["Adamello Batholith (N-Italy)", "Peninsular Range Batholith (S-California)", "Novate granite (N-Italy)"];

const gridSeries = [
  { a: aAdamello, p: aPeninsular, gab: aGabbro, horn: aHorn, ton: aTon, grd: aGrd, apl: aApl, calc: aCalc, nov: aNovate, como: aComo, tzg: aTzGrd, typ: aTypical, qtz: aQtz, tzt: aTzTon, kfs: aKfs, hbl: aHbl, eq: aEqui, maf: aMafic, tza: aTzApl, grn: aGranite, dio: aDiorite, sho: [] as P[] },
  { a: bAdamello, p: bPeninsular, gab: bGabbro, horn: bHorn, ton: bTon, grd: bGrd, apl: bApl, calc: bCalc, nov: bNovate, como: bComo, tzg: bTzGrd, typ: bTypical, qtz: bQtz, tzt: bTzTon, kfs: bKfs, hbl: bHbl, eq: bEqui, maf: bMafic, tza: bTzApl, grn: [] as P[], dio: [] as P[], sho: [] as P[] },
  { a: cAdamello, p: cPeninsular, gab: cGabbro, horn: cHorn, ton: cTon, grd: cGrd, apl: cApl, calc: cCalc, nov: cNovate, como: cComo, tzg: cTzGrd, typ: cTypical, qtz: cQtz, tzt: cTzTon, kfs: cKfs, hbl: cHbl, eq: cEqui, maf: cMafic, tza: cTzApl, grn: [] as P[], dio: [] as P[], sho: [] as P[] },
  { a: dAdamello, p: dPeninsular, gab: dGabbro, horn: dHorn, ton: dTon, grd: dGrd, apl: dApl, calc: dCalc, nov: dNovate, como: dComo, tzg: dTzGrd, typ: dTypical, qtz: dQtz, tzt: dTzTon, kfs: dKfs, hbl: dHbl, eq: dEqui, maf: dMafic, tza: dTzApl, grn: [] as P[], dio: [] as P[], sho: [] as P[] },
  { a: eAdamello, p: ePeninsular, gab: eGabbro, horn: eHorn, ton: eTon, grd: eGrd, apl: eApl, calc: eCalc, nov: eNovate, como: eComo, tzg: eTzGrd, typ: eTypical, qtz: eQtz, tzt: eTzTon, kfs: eKfs, hbl: eHbl, eq: eEqui, maf: eMafic, tza: eTzApl, grn: eGranite, dio: eDiorite, sho: eShosh },
  { a: fAdamello, p: fPeninsular, gab: fGabbro, horn: fHorn, ton: fTon, grd: fGrd, apl: fApl, calc: fCalc, nov: fNovate, como: fComo, tzg: fTzGrd, typ: fTypical, qtz: fQtz, tzt: fTzTon, kfs: fKfs, hbl: fHbl, eq: fEqui, maf: fMafic, tza: fTzApl, grn: fGranite, dio: fDiorite, sho: [] as P[] },
  { a: gAdamello, p: gPeninsular, gab: gGabbro, horn: gHorn, ton: gTon, grd: gGrd, apl: gApl, calc: gCalc, nov: gNovate, como: gComo, tzg: gTzGrd, typ: gTypical, qtz: gQtz, tzt: gTzTon, kfs: gKfs, hbl: gHbl, eq: gEqui, maf: gMafic, tza: gTzApl, grn: gGranite, dio: gDiorite, sho: [] as P[] },
  { a: hAdamello, p: hPeninsular, gab: hGabbro, horn: hHorn, ton: hTon, grd: hGrd, apl: hApl, calc: hCalc, nov: hNovate, como: hComo, tzg: hTzGrd, typ: hTypical, qtz: hQtz, tzt: hTzTon, kfs: hKfs, hbl: hHbl, eq: hEqui, maf: hMafic, tza: hTzApl, grn: hGranite, dio: [] as P[], sho: [] as P[] },
];

// ---------- layout (page pixels)
const frames = [
  { cx: 0, cy: 0, cw: 343, ch: 232, L: 49, R: 335, T: 7, B: 212 },
  { cx: 342, cy: 0, cw: 343, ch: 232, L: 387, R: 676, T: 6, B: 211 },
  { cx: 0, cy: 232, cw: 343, ch: 233, L: 49, R: 335, T: 238, B: 444 },
  { cx: 342, cy: 232, cw: 343, ch: 233, L: 387, R: 676, T: 239, B: 445 },
  { cx: 0, cy: 465, cw: 343, ch: 232, L: 49, R: 335, T: 471, B: 677 },
  { cx: 342, cy: 465, cw: 343, ch: 232, L: 387, R: 676, T: 471, B: 677 },
  { cx: 0, cy: 697, cw: 343, ch: 249, L: 49, R: 335, T: 703, B: 909 },
  { cx: 342, cy: 697, cw: 343, ch: 249, L: 387, R: 676, T: 703, B: 909 },
];

const NAVY = "#3a3a94";
const OUT = "#7474bc";
const YEL = "#f4ef00";
const GRN = "#6cae48";
const FONT = "'Liberation Sans', Arial, sans-serif";

function canvasSym(size: number, fn: (c: CanvasRenderingContext2D, s: number) => void) {
  const e = document.createElement("canvas");
  e.width = size; e.height = size;
  const c = e.getContext("2d")!;
  fn(c, size);
  return e;
}
function diamondPath(c: CanvasRenderingContext2D, s: number, r: number) {
  c.beginPath(); c.moveTo(s / 2, s / 2 - r); c.lineTo(s / 2 + r, s / 2); c.lineTo(s / 2, s / 2 + r); c.lineTo(s / 2 - r, s / 2); c.closePath();
}
function starPath(c: CanvasRenderingContext2D, s: number, r: number) {
  c.beginPath();
  for (let i = 0; i < 10; i++) {
    const a = -Math.PI / 2 + (i * Math.PI) / 5;
    const q = i % 2 ? r * 0.42 : r;
    c.lineTo(s / 2 + q * Math.cos(a), s / 2 + q * Math.sin(a));
  }
  c.closePath();
}
function plusPath(c: CanvasRenderingContext2D, s: number, r: number, t: number) {
  const m = s / 2;
  c.beginPath();
  c.moveTo(m - t, m - r); c.lineTo(m + t, m - r); c.lineTo(m + t, m - t); c.lineTo(m + r, m - t); c.lineTo(m + r, m + t); c.lineTo(m + t, m + t);
  c.lineTo(m + t, m + r); c.lineTo(m - t, m + r); c.lineTo(m - t, m + t); c.lineTo(m - r, m + t); c.lineTo(m - r, m - t); c.lineTo(m - t, m - t);
  c.closePath();
}

function buildStyles() {
  const horn = canvasSym(11, (c, s) => {
    diamondPath(c, s, 4.3); c.fillStyle = "#f0f0fa"; c.fill(); c.strokeStyle = "#7a7ac0"; c.lineWidth = 1.3; c.stroke();
    c.strokeStyle = "#7b7bc2"; c.lineWidth = 0.7; c.beginPath(); c.moveTo(s / 2 - 2.6, s / 2); c.lineTo(s / 2 + 2.6, s / 2); c.moveTo(s / 2, s / 2 - 2.6); c.lineTo(s / 2, s / 2 + 2.6); c.stroke();
  });
  const apl = canvasSym(9, (c, s) => {
    c.fillStyle = "#e8e8f6"; c.fillRect(1, 1, s - 2, s - 2); c.strokeStyle = "#8585c6"; c.lineWidth = 1; c.strokeRect(1, 1, s - 2, s - 2);
    c.beginPath(); c.moveTo(s / 2, 1); c.lineTo(s / 2, s - 1); c.moveTo(1, s / 2); c.lineTo(s - 1, s / 2); c.stroke();
  });
  const como = canvasSym(11, (c, s) => {
    c.beginPath(); c.arc(s / 2, s / 2, 4.6, 0, 7); c.fillStyle = "#f2a284"; c.fill();
    c.strokeStyle = "#fff"; c.lineWidth = 1.1; c.beginPath(); c.arc(s / 2, s / 2, 2.6, 0, 7); c.moveTo(s / 2 - 4, s / 2); c.lineTo(s / 2 + 4, s / 2); c.moveTo(s / 2, s / 2 - 4); c.lineTo(s / 2, s / 2 + 4); c.stroke();
  });
  const comoSolid = canvasSym(11, (c, s) => { c.beginPath(); c.arc(s / 2, s / 2, 4.4, 0, 7); c.fillStyle = "#f2a284"; c.fill(); });
  const tzg = canvasSym(9, (c, s) => {
    c.fillStyle = "#a7a7a2"; c.fillRect(0.5, 0.5, s - 1, s - 1);
    c.fillStyle = YEL; c.fillRect(2, 2, 2, 2); c.fillRect(5, 4, 2, 2); c.fillRect(2.5, 6, 2, 2);
  });
  const qtz = canvasSym(11, (c, s) => {
    c.fillStyle = GRN; c.fillRect(1, 1, s - 2, s - 2); c.strokeStyle = "#1c2a14"; c.lineWidth = 1.4; c.strokeRect(1.2, 1.2, s - 2.4, s - 2.4);
    c.lineWidth = 0.8; c.strokeStyle = "#2f5a20"; c.beginPath(); c.moveTo(3.5, 3.5); c.lineTo(7.5, 7.5); c.moveTo(7.5, 3.5); c.lineTo(3.5, 7.5); c.stroke();
  });
  const star = canvasSym(13, (c, s) => { starPath(c, s, 5.8); c.fillStyle = YEL; c.fill(); c.strokeStyle = "#111"; c.lineWidth = 1.2; c.stroke(); });
  const hbl = canvasSym(13, (c, s) => { plusPath(c, s, 5.5, 1.5); c.fillStyle = YEL; c.fill(); c.strokeStyle = "#1b1b10"; c.lineWidth = 1.1; c.stroke(); });
  const shosh = canvasSym(7, (c, s) => { plusPath(c, s, 2.6, 0.7); c.fillStyle = NAVY; c.fill(); });
  const shoshBig = canvasSym(11, (c, s) => { plusPath(c, s, 4.6, 1.2); c.fillStyle = NAVY; c.fill(); });
  const granite = canvasSym(7, (c) => { c.fillStyle = NAVY; c.fillRect(0.5, 2.6, 6, 1.8); });
  const diorite = canvasSym(7, (c) => { c.fillStyle = NAVY; c.fillRect(2.6, 0.5, 1.8, 6); });
  const melirolo = canvasSym(11, (c, s) => { starPath(c, s, 4.8); c.strokeStyle = OUT; c.lineWidth = 0.9; c.stroke(); });
  const cam = canvasSym(9, (c, s) => { c.strokeStyle = OUT; c.lineWidth = 1; c.beginPath(); c.moveTo(1, 1); c.lineTo(s - 1, s - 1); c.moveTo(s - 1, 1); c.lineTo(1, s - 1); c.stroke(); });
  return {
    horn: { pointStyle: horn, radius: 5 }, apl: { pointStyle: apl, radius: 4 }, como: { pointStyle: como, radius: 5 }, comoSolid: { pointStyle: comoSolid, radius: 5 },
    tzg: { pointStyle: tzg, radius: 4 }, qtz: { pointStyle: qtz, radius: 5 }, kfs: { pointStyle: star, radius: 6 }, hbl: { pointStyle: hbl, radius: 6 },
    sho: { pointStyle: shosh, radius: 3 }, shoBig: { pointStyle: shoshBig, radius: 5 }, grn: { pointStyle: granite, radius: 3 }, dio: { pointStyle: diorite, radius: 3 }, mel: { pointStyle: melirolo, radius: 5 }, cam: { pointStyle: cam, radius: 4 },
    gab: { pointStyle: "circle", radius: 1.9, bg: NAVY, bd: NAVY, w: 0 },
    ton: { pointStyle: "rectRot", radius: 3.8, bg: "#fff", bd: OUT, w: 1.3 },
    grd: { pointStyle: "circle", radius: 2.9, bg: "#fff", bd: OUT, w: 1.1 },
    calc: { pointStyle: "triangle", radius: 3.8, bg: "#fff", bd: OUT, w: 1.1 },
    trans: { pointStyle: "triangle", radius: 3.8, bg: "#fff", bd: OUT, w: 1.1, rot: 180 },
    nov: { pointStyle: "rect", radius: 4.6, bg: "#d6251f", bd: "#9c8f8f", w: 0.8 },
    typ: { pointStyle: "circle", radius: 4, bg: GRN, bd: "#22331a", w: 1.2 },
    tzt: { pointStyle: "rectRot", radius: 5.6, bg: YEL, bd: "#111", w: 1.4 },
    eq: { pointStyle: "triangle", radius: 5.6, bg: YEL, bd: "#111", w: 1.5, rot: 180 },
    maf: { pointStyle: "triangle", radius: 5.8, bg: YEL, bd: "#111", w: 1.5 },
    tza: { pointStyle: "rect", radius: 5.6, bg: YEL, bd: "#111", w: 1.5 },
  } as Record<string, any>;
}

function pointsDs(label: string, data: P[], st: any) {
  return {
    label, data, clip: false, showLine: false,
    pointStyle: st.pointStyle, pointRadius: st.radius, pointBackgroundColor: st.bg, pointBorderColor: st.bd, pointBorderWidth: st.w ?? 0, pointRotation: st.rot ?? 0,
  };
}
function fieldDs(label: string, data: P[], bg: string, bd: string) {
  return {
    label, data: [...data, data[0]], showLine: true, fill: "shape", tension: 0.38, backgroundColor: bg, borderColor: bd, borderWidth: 0.9, pointRadius: 0,
  };
}

function drawMark(ctx: CanvasRenderingContext2D, st: any, x: number, y: number, k: number) {
  const ps = st.pointStyle;
  ctx.save();
  ctx.translate(x, y);
  if (typeof ps !== "string") {
    const w = ps.width * k;
    ctx.drawImage(ps, -w / 2, -w / 2, w, w);
  } else {
    const r = st.radius * k;
    ctx.fillStyle = st.bg; ctx.strokeStyle = st.bd; ctx.lineWidth = st.w ?? 0;
    ctx.beginPath();
    if (ps === "circle") ctx.arc(0, 0, r, 0, 7);
    else if (ps === "rectRot") { ctx.moveTo(0, -r); ctx.lineTo(r, 0); ctx.lineTo(0, r); ctx.lineTo(-r, 0); ctx.closePath(); }
    else if (ps === "rect") { const h = r * Math.SQRT1_2; ctx.rect(-h, -h, 2 * h, 2 * h); }
    else { const d = st.rot ? -1 : 1; ctx.moveTo(0, -r * d); ctx.lineTo(r * 0.87, r * 0.5 * d); ctx.lineTo(-r * 0.87, r * 0.5 * d); ctx.closePath(); }
    ctx.fill();
    if (st.w) ctx.stroke();
  }
  ctx.restore();
}

function legendText(ctx: CanvasRenderingContext2D, s: string, x: number, y: number, font: string, color = "#222") {
  ctx.font = font; ctx.fillStyle = color; ctx.textAlign = "left"; ctx.textBaseline = "middle"; ctx.fillText(s, x, y);
}

function legendAPlugin(st: any, f: any) {
  const ox = f.cx, oy = f.cy;
  return {
    id: "legendA",
    afterDraw(chart: any) {
      const ctx = chart.ctx as CanvasRenderingContext2D;
      ctx.save();
      ctx.fillStyle = "#fff"; ctx.fillRect(238 - ox, 114 - oy, 97, 98);
      ctx.strokeStyle = "#111"; ctx.lineWidth = 1.3; ctx.strokeRect(238 - ox, 114 - oy, 97, 98);
      const bold = `bold 6.6px ${FONT}`, reg = `6.8px ${FONT}`;
      const marks = [st.tzt, st.kfs, st.hbl, st.eq, st.tzg, st.maf, st.tza];
      const ys = [125, 133, 140.7, 147.3, 153.3, 159.3, 165.7];
      legendText(ctx, "Transition zone:", 241.5 - ox, 119 - oy, bold);
      legendATransition.forEach((t, i) => { drawMark(ctx, marks[i], 243.5 - ox, ys[i] - oy, 0.65); legendText(ctx, t, 249 - ox, ys[i] - oy, reg); });
      legendText(ctx, "Outside the transition zone:", 241.5 - ox, 172.3 - oy, bold);
      drawMark(ctx, st.typ, 243.5 - ox, 179.7 - oy, 0.55); legendText(ctx, legendAOutside[0], 249 - ox, 179.7 - oy, reg);
      drawMark(ctx, st.qtz, 243.5 - ox, 186.3 - oy, 0.65); legendText(ctx, legendAOutside[1], 249 - ox, 186.3 - oy, reg);
      legendText(ctx, "Como molasse:", 241.5 - ox, 193.3 - oy, bold);
      drawMark(ctx, st.como, 243.5 - ox, 200 - oy, 0.65); legendText(ctx, legendAComo[0], 249 - ox, 200 - oy, reg);
      drawMark(ctx, st.comoSolid, 243.5 - ox, 206.7 - oy, 0.65); legendText(ctx, legendAComo[1], 249 - ox, 206.7 - oy, reg);
      ctx.restore();
    },
  };
}
function legendBPlugin(st: any, f: any) {
  const ox = f.cx, oy = f.cy;
  return {
    id: "legendB",
    afterDraw(chart: any) {
      const ctx = chart.ctx as CanvasRenderingContext2D;
      ctx.save();
      ctx.fillStyle = "#fff"; ctx.fillRect(552 - ox, 6 - oy, 124, 125);
      ctx.strokeStyle = "#111"; ctx.lineWidth = 1.3; ctx.strokeRect(552 - ox, 6 - oy, 124, 125);
      legendText(ctx, "Bergell Batholith", 558.7 - ox, 12.7 - oy, `bold 6.6px ${FONT}`);
      const marks = [st.horn, st.gab, st.shoBig, st.calc, st.dio, st.ton, st.trans, st.grd, st.cam, st.grn, st.mel, st.apl];
      const ys = [21.7, 29, 35.7, 41.7, 47.7, 55, 62.3, 68.3, 75.7, 82.3, 90, 97.7];
      legendB.forEach((t, i) => {
        const k = marks[i] === st.horn ? 0.95 : marks[i] === st.gab ? 1 : 0.95;
        drawMark(ctx, marks[i], 558.7 - ox, ys[i] - oy, k);
        legendText(ctx, t, 564.3 - ox, ys[i] - oy, `${i === 3 ? 6.7 : 7.2}px ${FONT}`);
      });
      const fx = 560.7 - ox;
      ctx.lineWidth = 0.8; ctx.strokeStyle = "#333";
      ctx.beginPath(); ctx.ellipse(fx, 108.7 - oy, 6, 2.3, 0, 0, 7); ctx.fillStyle = "#c8c8c8"; ctx.fill(); ctx.stroke();
      ctx.beginPath(); ctx.ellipse(fx, 118.3 - oy, 6, 2.3, 0, 0, 7); ctx.fillStyle = "#c28e58"; ctx.fill(); ctx.stroke();
      ctx.fillStyle = "#d6251f"; ctx.fillRect(557 - ox, 124 - oy, 5, 5);
      legendText(ctx, legendBFields[0], 569 - ox, 108.7 - oy, `bold 6.4px ${FONT}`);
      legendText(ctx, legendBFields[1], 569 - ox, 118.3 - oy, `bold 5.4px ${FONT}`, "#3a3020");
      legendText(ctx, legendBFields[2], 569 - ox, 126.7 - oy, `bold 6.4px ${FONT}`);
      ctx.restore();
    },
  };
}

function framePlugin(letter: string, minor: number) {
  return {
    id: "panelFrame",
    afterDraw(chart: any) {
      const ctx = chart.ctx as CanvasRenderingContext2D;
      const a = chart.chartArea, xs = chart.scales.x, ys = chart.scales.y;
      ctx.save();
      ctx.strokeStyle = "#111";
      ctx.lineWidth = 1;
      const step = yStep[letters.indexOf(letter)];
      const EPS = 1e-6;
      for (let v = 35; v <= 80; v += 1) {
        const px = Math.round(xs.getPixelForValue(v)) + 0.5;
        const maj = v % 5 === 0;
        ctx.beginPath(); ctx.moveTo(px, a.bottom + (maj ? 2 : 0)); ctx.lineTo(px, a.bottom - (maj ? 4 : 2));
        ctx.moveTo(px, a.top); ctx.lineTo(px, a.top + (maj ? 4 : 2)); ctx.stroke();
      }
      const ym = ys.max;
      const n = Math.round(ym / minor);
      for (let i = 0; i <= n; i++) {
        const v = i * minor;
        const py = Math.round(ys.getPixelForValue(v)) + 0.5;
        const r = v / step;
        const maj = Math.abs(r - Math.round(r)) < EPS;
        ctx.beginPath(); ctx.moveTo(a.left - (maj ? 2 : 0), py); ctx.lineTo(a.left + (maj ? 4 : 2), py);
        ctx.moveTo(a.right, py); ctx.lineTo(a.right - (maj ? 4 : 2), py); ctx.stroke();
      }
      ctx.lineWidth = 1.7;
      ctx.strokeRect(a.left, a.top, a.right - a.left, a.bottom - a.top);
      const bx = a.left + 2, by = a.top + 3;
      ctx.fillStyle = "#555"; ctx.fillRect(bx + 1, by + 1, 19, 16);
      ctx.fillStyle = "#fff"; ctx.fillRect(bx, by, 18, 15);
      ctx.lineWidth = 1.6; ctx.strokeRect(bx, by, 18, 15);
      ctx.fillStyle = "#111"; ctx.font = `bold 16px ${FONT}`; ctx.textAlign = "center"; ctx.textBaseline = "middle";
      ctx.fillText(letter, bx + 9, by + 7.5);
      ctx.restore();
    },
  };
}

export default function App() {
  const refs = useRef<(HTMLCanvasElement | null)[]>([]);
  useEffect(() => {
    const st = buildStyles();
    const charts = gridSeries.map((s, i) => {
      const f = frames[i];
      const datasets: any[] = [
        pointsDs("Aplites and pegmatites (transition zone)", s.tza, st.tza),
        pointsDs("Mafic enclaves", s.maf, st.maf),
        pointsDs("Equigranular granodiorite", s.eq, st.eq),
        pointsDs("Tonalite (transition zone)", s.tzt, st.tzt),
        pointsDs("K-feldspar rich tonalite", s.kfs, st.kfs),
        pointsDs("Hornblende-rich granodiorite", s.hbl, st.hbl),
        pointsDs("Typical Bergell granodiorite", s.typ, st.typ),
        pointsDs("Quartz-diorite", s.qtz, st.qtz),
        pointsDs("Como molasse", s.como, st.como),
        pointsDs("Novate granite", s.nov, st.nov),
        pointsDs("Granodiorite (transition zone)", s.tzg, st.tzg),
        pointsDs("Granite", s.grn, st.grn),
        pointsDs("Diorite", s.dio, st.dio),
        pointsDs("Tonalite", s.ton, st.ton),
        pointsDs("Granodiorite", s.grd, st.grd),
        pointsDs("Aplites and pegmatites", s.apl, st.apl),
        pointsDs("Calc-alk. basic dykes and enclaves", s.calc, st.calc),
        pointsDs("Shosh. basic dykes and enclaves", s.sho, st.sho),
        pointsDs("Gabbro", s.gab, st.gab),
        pointsDs("Hornblendites", s.horn, st.horn),
        fieldDs("Peninsular Range Batholith", s.p, "#c3905a", "#e0a070"),
        fieldDs("Adamello Batholith", s.a, "#bdbdbd", "#d8b8a8"),
      ];
      const plugins: any[] = [framePlugin(letters[i], yMinor[i])];
      if (i === 0) plugins.push(legendAPlugin(st, f));
      if (i === 1) plugins.push(legendBPlugin(st, f));
      const bottom = f.cy + f.ch - f.B;
      return new Chart(refs.current[i]!, {
        type: "scatter",
        data: { datasets },
        plugins,
        options: {
          animation: false, responsive: false,
          layout: { padding: { top: f.T - f.cy, right: f.cx + f.cw - f.R, left: 0, bottom: 0 } },
          plugins: { legend: { display: false }, tooltip: { enabled: false }, title: { display: false } },
          scales: {
            x: {
              type: "linear", min: xRange[0], max: xRange[1],
              grid: { display: false, drawTicks: false }, border: { display: false },
              ticks: { stepSize: xStep, color: "#111", font: { family: FONT, weight: "bold", size: 11.5 }, padding: 4, maxRotation: 0 },
              title: { display: i >= 6, text: xLabelTitle, color: "#111", font: { family: FONT, weight: "bold", size: 13.8 }, padding: { top: 0, bottom: 0 } },
              afterFit: (sc: any) => { sc.height = bottom; },
            },
            y: {
              type: "linear", min: 0, max: yMax[i],
              grid: { display: false, drawTicks: false }, border: { display: false },
              ticks: { stepSize: yStep[i], color: "#111", font: { family: FONT, weight: "bold", size: 11.5 }, padding: 5 },
              title: { display: true, text: titles[i], color: "#111", font: { family: FONT, weight: "bold", size: 13.8 }, padding: { top: 5, bottom: 0 } },
              afterFit: (sc: any) => { sc.width = f.L - f.cx; },
            },
          },
        } as any,
      } as any);
    });
    return () => charts.forEach((c) => c.destroy());
  }, []);
  return (
    <div style={{ position: "absolute", left: 0, top: 0, width: 685, height: 946, background: "#fff", overflow: "hidden" }}>
      {frames.map((f, i) => (
        <canvas key={i} ref={(el) => { refs.current[i] = el; }} width={f.cw} height={f.ch}
          style={{ position: "absolute", left: f.cx, top: f.cy, width: f.cw, height: f.ch, filter: "blur(0.3px)" }} />
      ))}
    </div>
  );
}
